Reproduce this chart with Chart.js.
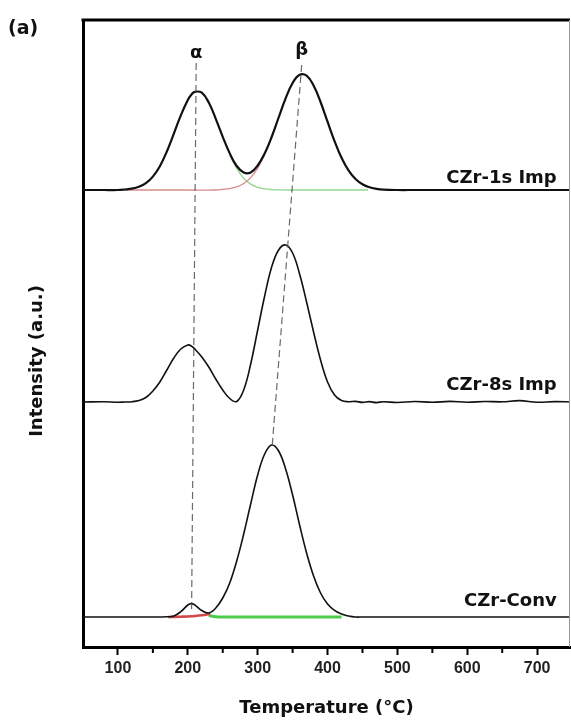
<!DOCTYPE html>
<html>
<head>
<meta charset="utf-8">
<script src="https://cdn.jsdelivr.net/npm/chart.js@4.4.1/dist/chart.umd.min.js"></script>
<style>
  html, body { margin: 0; padding: 0; background: #fff; }
  #wrap { width: 571px; height: 720px; }
</style>
</head>
<body>
<div id="wrap"><canvas id="tpr" width="571" height="720"></canvas></div>
<script>
// temperature grid (°C) shared by the three profiles
const temps = [50, 80, 100, 110, 120, 130, 140, 150, 160, 170, 180, 190, 200, 205, 210, 220, 230, 240, 250, 260,
  270, 280, 290, 300, 310, 320, 330, 340, 350, 360, 370, 380, 390, 400, 410, 420, 430, 440, 450, 460,
  470, 480, 500, 525, 550, 575, 600, 625, 650, 675, 700, 725, 750];

// H2 consumption signal above each baseline (a.u.)
const sig1s = [0, 0, 0, 0.5, 1.3, 3.2, 6.8, 13.4, 23.8, 38.5, 56.3, 74.7, 90, 95.3, 98.2, 97.3, 87.4, 71.2, 53.2, 36.6,
  24, 17.5, 17.5, 24.5, 36.4, 53, 72.5, 91.7, 107, 115.2, 114.3, 104.5, 88, 68.3, 48.9, 32.2, 19.6, 11, 5.7, 2.7,
  1.2, 0.4, 0, 0, 0, 0, 0, 0, 0, 0, 0, 0, 0];
const sig8s = [0, 0.3, -0.3, 0, 0.3, 1.5, 4.5, 11, 20, 32, 44, 53, 57, 56, 53, 45, 35, 23, 12, 3.5,
  0.5, 12, 38, 72, 106, 135, 152, 157, 149, 128, 100, 70, 42, 20, 7, 1.5, 0.3, 0.6, -0.4, 0.4,
  -0.6, 0.3, -0.5, 0.5, -0.3, 0.6, -0.2, 0.5, 0.2, 1.4, -0.3, 0.4, 0];
const sigConv = [0, 0, 0, 0, 0, 0, 0, 0, 0, 0.2, 1, 5.3, 12, 13.4, 12, 6.5, 4, 9, 19, 34,
  56, 83, 113, 142, 163, 172, 166, 148, 122, 92, 64, 41, 24, 13, 6.7, 3, 1, 0, 0, 0,
  0, 0, 0, 0, 0, 0, 0, 0, 0, 0, 0, 0, 0];

// vertical offsets of the stacked profiles
const base1s = 457;
const base8s = 245;
const baseConv = 30;

// fitted peak components (only the parts that show outside the black curves)
const fit1sRedT = [110, 150, 200, 240, 250, 260, 270, 280, 290, 300, 310];
const fit1sRed = [0, 0, 0, 0, 0.6, 1.4, 3.1, 6.5, 12.4, 21.8, 35.3];
const fit1sGreenT = [260, 270, 280, 290, 300, 310, 320, 330, 350, 400, 458];
const fit1sGreen = [35.2, 21.4, 11.8, 5.9, 2.7, 1.1, 0.4, 0.1, 0, 0, 0];
const fitConvRedT = [172, 190, 200, 205, 210, 220, 232];
const fitConvRed = [0, 0.3, 0.5, 0.7, 1, 1.8, 3];
const fitConvGreenT = [230, 240, 250, 300, 420];
const fitConvGreen = [1.5, 0.3, 0, 0, 0];

// dashed guide lines through alpha and beta peaks
const alphaGuideT = [212, 205.4];
const alphaGuideI = [584, 35];
const betaGuideT = [363, 321];
const betaGuideI = [582, 203];

const majorTicks = [100, 200, 300, 400, 500, 600, 700];
const minorTicks = [150, 250, 350, 450, 550, 650];
const sampleNames = ['CZr-1s Imp', 'CZr-8s Imp', 'CZr-Conv'];

function toPoints(xs, ys, base) {
  return xs.map((t, i) => ({ x: t, y: ys[i] + base }));
}

function curve(points, color, width, order) {
  return {
    data: points, borderColor: color, borderWidth: width, order: order,
    pointRadius: 0, fill: false, tension: 0.4
  };
}

function guide(xs, ys) {
  return {
    data: xs.map((t, i) => ({ x: t, y: ys[i] })), borderColor: 'rgba(80,80,80,0.85)',
    borderWidth: 1.2, borderDash: [7, 4], pointRadius: 0, order: 0, tension: 0
  };
}

const datasets = [
  guide(alphaGuideT, alphaGuideI),
  guide(betaGuideT, betaGuideI),
  curve(toPoints(temps, sig1s, base1s), '#111', 2.2, 1),
  curve(toPoints(temps, sig8s, base8s), '#111', 1.6, 1),
  curve(toPoints(temps, sigConv, baseConv), '#111', 1.6, 1),
  curve(toPoints(fit1sRedT, fit1sRed, base1s), '#d98a8a', 1.3, 2),
  curve(toPoints(fit1sGreenT, fit1sGreen, base1s), '#93d693', 1.3, 2),
  curve(toPoints(fitConvRedT, fitConvRed, baseConv), '#d04848', 2.6, 2),
  curve(toPoints(fitConvGreenT, fitConvGreen, baseConv), '#4ccc4c', 3, 2)
];

// frame, minor ticks and the text labels
const extras = {
  id: 'extras',
  afterDraw(chart) {
    const { ctx, chartArea: a, scales: { x, y } } = chart;
    ctx.save();
    ctx.strokeStyle = '#000';
    ctx.lineWidth = 3;
    ctx.beginPath();
    ctx.moveTo(a.left - 1.5, a.top);
    ctx.lineTo(a.right, a.top);
    ctx.stroke();
    ctx.strokeStyle = '#9a9a9a';
    ctx.lineWidth = 1;
    ctx.beginPath();
    ctx.moveTo(a.right - 0.5, a.top);
    ctx.lineTo(a.right - 0.5, a.bottom);
    ctx.stroke();

    ctx.strokeStyle = '#000';
    ctx.lineWidth = 2;
    minorTicks.forEach(v => {
      const px = x.getPixelForValue(v);
      ctx.beginPath();
      ctx.moveTo(px, a.bottom);
      ctx.lineTo(px, a.bottom + 6);
      ctx.stroke();
    });

    ctx.fillStyle = '#111';
    ctx.font = 'bold 18px "DejaVu Sans"';
    ctx.textBaseline = 'middle';
    ctx.textAlign = 'right';
    const labelX = x.getPixelForValue(728);
    ctx.fillText(sampleNames[0], labelX, y.getPixelForValue(base1s + 12));
    ctx.fillText(sampleNames[1], labelX, y.getPixelForValue(base8s + 17));
    ctx.fillText(sampleNames[2], labelX, y.getPixelForValue(baseConv + 16));

    ctx.textAlign = 'center';
    ctx.fillText('α', x.getPixelForValue(212), y.getPixelForValue(594));
    ctx.fillText('β', x.getPixelForValue(363), y.getPixelForValue(597));

    ctx.textAlign = 'left';
    ctx.font = 'bold 19px "DejaVu Sans"';
    ctx.fillText('(a)', 8, 29);

    ctx.font = 'bold 18px "DejaVu Sans"';
    ctx.translate(37, 361);
    ctx.rotate(-Math.PI / 2);
    ctx.textAlign = 'center';
    ctx.fillText('Intensity (a.u.)', 0, 0);
    ctx.restore();
  }
};

new Chart(document.getElementById('tpr'), {
  type: 'line',
  data: { datasets: datasets },
  options: {
    responsive: false,
    animation: false,
    layout: { padding: { top: 20, right: 1, left: 0, bottom: 0 } },
    plugins: { legend: { display: false }, tooltip: { enabled: false } },
    scales: {
      x: {
        type: 'linear', min: 50, max: 747,
        afterBuildTicks: s => { s.ticks = majorTicks.map(v => ({ value: v })); },
        afterFit: s => { s.height = 73; },
        grid: { drawOnChartArea: false, drawTicks: true, tickLength: 8, tickWidth: 2, tickColor: '#000' },
        border: { display: true, width: 3, color: '#000' },
        ticks: { color: '#222', padding: 4, font: { family: 'Liberation Sans', size: 16, weight: 'bold' } },
        title: {
          display: true, text: 'Temperature (°C)', color: '#111',
          font: { family: 'DejaVu Sans', size: 18, weight: 'bold' }, padding: { top: 0, bottom: 1 }
        }
      },
      y: {
        min: 0, max: 627,
        afterFit: s => { s.width = 83; },
        grid: { display: false },
        border: { display: true, width: 3, color: '#000' },
        ticks: { display: false }
      }
    }
  },
  plugins: [extras]
});
</script>
</body>
</html>
